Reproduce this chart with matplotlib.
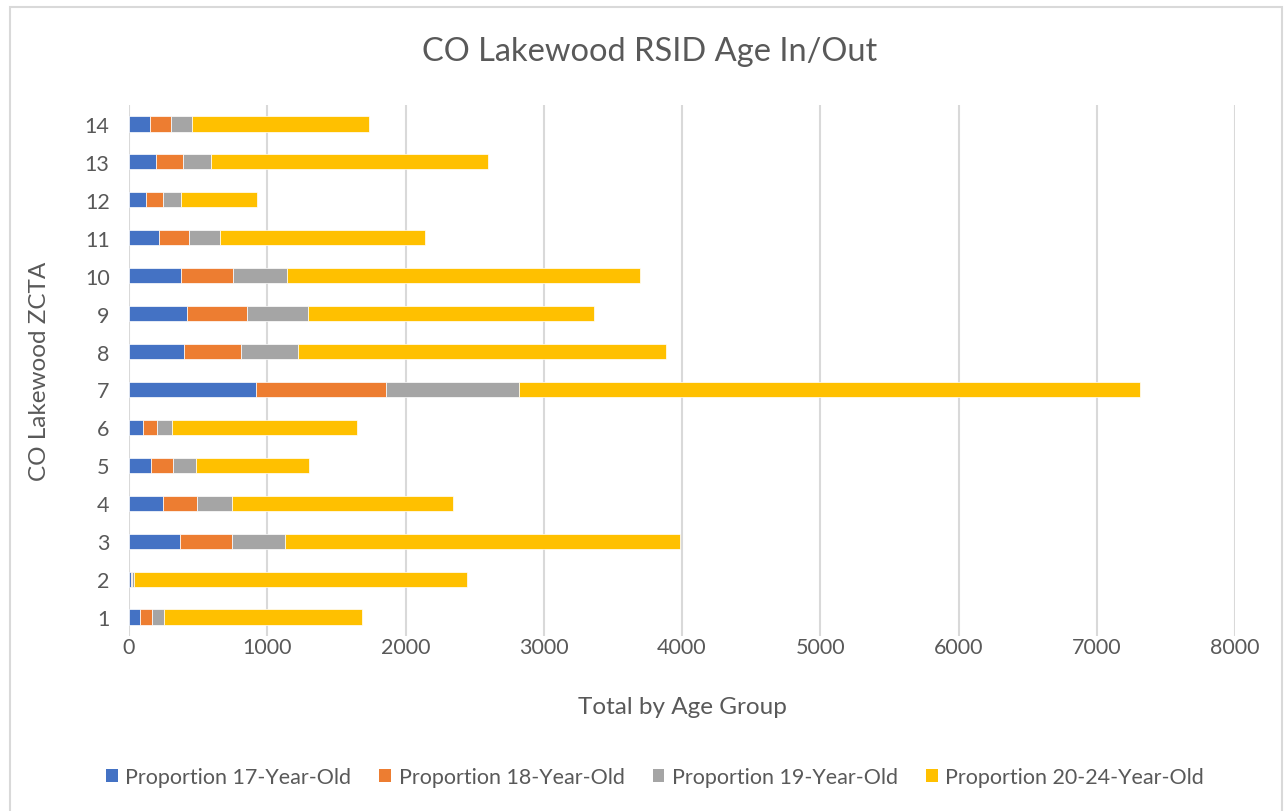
import numpy as np
import matplotlib.pyplot as plt
from matplotlib.patches import Rectangle, Patch

plt.rcParams['font.family'] = ['Lato', 'DejaVu Sans']

# ZCTA index and counts per age group (stacked left to right)
zcta = [1, 2, 3, 4, 5, 6, 7, 8, 9, 10, 11, 12, 13, 14]
age_17 = [80, 12, 369, 246, 157, 101, 920, 396, 420, 375, 215, 121, 193, 150]
age_18 = [84, 12, 374, 244, 159, 102, 938, 413, 433, 379, 220, 126, 201, 152]
age_19 = [87, 15, 384, 253, 169, 106, 961, 416, 442, 391, 225, 130, 200, 157]
age_20_24 = [1435, 2407, 2862, 1604, 815, 1343, 4494, 2657, 2070, 2548, 1483, 548, 2003, 1276]

series_names = ['Proportion 17-Year-Old', 'Proportion 18-Year-Old',
                'Proportion 19-Year-Old', 'Proportion 20-24-Year-Old']
colors = ['#4472C4', '#ED7D31', '#A5A5A5', '#FFC000']
xticks = [0, 1000, 2000, 3000, 4000, 5000, 6000, 7000, 8000]

W, H = 1286, 812
fig = plt.figure(figsize=(W / 100, H / 100), dpi=100)

# chart area frame (bottom edge runs off the page)
fig.patches.append(Rectangle((10 / W, -0.05), 1272 / W, 1.05 - 8 / H,
                             transform=fig.transFigure, fill=False,
                             edgecolor='#d9d9d9', linewidth=1.5))

ax = fig.add_axes([129 / W, 1 - 637 / H, (1235 - 129) / W, (637 - 106) / H])

y = np.arange(len(zcta))
left = np.zeros(len(zcta))
for vals, name, c in zip([age_17, age_18, age_19, age_20_24], series_names, colors):
    ax.barh(y, vals, left=left, height=0.4, color=c, edgecolor='white',
            linewidth=0.5, label=name, zorder=3)
    left += np.array(vals)

ax.set_xlim(0, 8000)
ax.set_ylim(-0.5, len(zcta) - 0.5)
ax.set_xticks(xticks)
ax.set_yticks(y)
ax.set_yticklabels([str(z) for z in zcta])
ax.grid(axis='x', color='#d9d9d9', linewidth=1.5, zorder=0)
for s in ax.spines.values():
    s.set_visible(False)
ax.tick_params(length=0, labelsize=15.5, colors='#595959')
ax.tick_params(axis='y', pad=14)
ax.tick_params(axis='x', pad=1)

ax.set_xlabel('Total by Age Group', fontsize=17.5, color='#595959', labelpad=28)
ax.set_ylabel('CO Lakewood ZCTA', fontsize=17.5, color='#595959', labelpad=25)

fig.text(650 / W, 1 - 52 / H, 'CO Lakewood RSID Age In/Out', ha='center',
         va='center', fontsize=23.5, color='#595959')

handles = [Patch(facecolor=c) for c in colors]
fig.legend(handles, series_names, loc='center', bbox_to_anchor=(655 / W, 1 - 778 / H),
           ncol=4, frameon=False, fontsize=15.5, labelcolor='#595959',
           handlelength=0.55, handleheight=0.55, handletextpad=0.35, columnspacing=1.3)

fig.savefig('out.png', dpi=100)
